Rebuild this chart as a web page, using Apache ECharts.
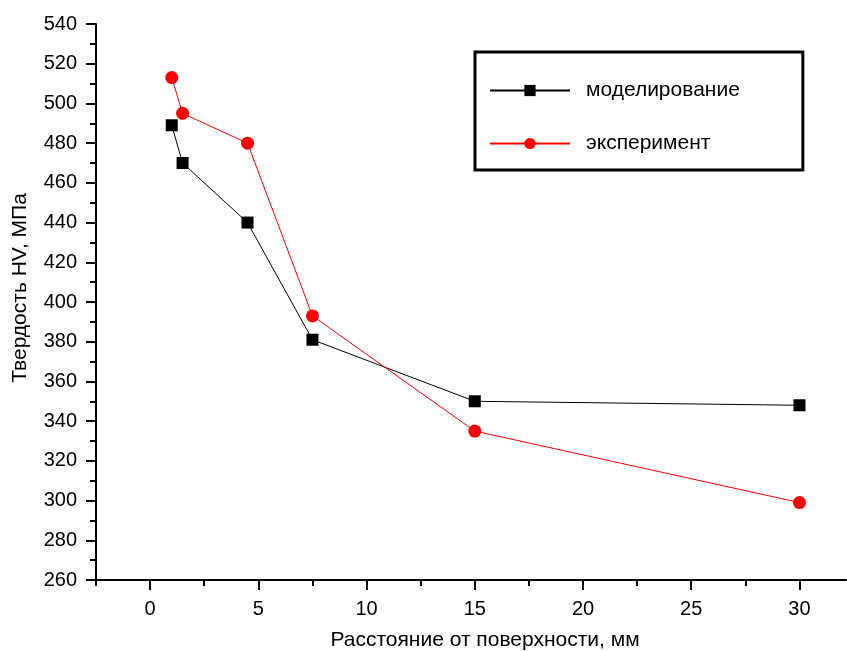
<!DOCTYPE html>
<html>
<head>
<meta charset="utf-8">
<script src="https://cdn.jsdelivr.net/npm/echarts@6/dist/echarts.min.js"></script>
<style>html,body{margin:0;padding:0;background:#fff}#c{width:847px;height:651px}</style>
</head>
<body>
<div id="c"></div>
<script>
const xValues = [1, 1.5, 4.5, 7.5, 15, 30];
const modelValues = [489, 470, 440, 381, 350, 348];
const expValues = [513, 495, 480, 393, 335, 299];
const seriesNames = ['моделирование', 'эксперимент'];
const xMajorTicks = [0, 5, 10, 15, 20, 25, 30];
const xMinorTicks = [-2.5, 2.5, 7.5, 12.5, 17.5, 22.5, 27.5];
const xTitle = 'Расстояние от поверхности, мм';
const yTitle = 'Твердость HV, МПа';

const font = 'Liberation Sans, Arial, sans-serif';
const chart = echarts.init(document.getElementById('c'), null, {renderer: 'canvas'});
const pair = (xs, ys) => xs.map((x, i) => [x, ys[i]]);

chart.setOption({
  animation: false,
  backgroundColor: '#fff',
  grid: {left: 96, right: 1, top: 24, bottom: 71, containLabel: false, outerBoundsMode: 'none'},
  legend: {
    left: 475, top: 52,
    orient: 'vertical',
    data: seriesNames,
    itemWidth: 80, itemHeight: 14, itemGap: 32,
    padding: [28, 63, 16, 14],
    borderColor: '#000', borderWidth: 3,
    backgroundColor: '#fff',
    textStyle: {fontFamily: font, fontSize: 21, lineHeight: 20, color: '#000', padding: [0, 0, 0, 11]}
  },
  xAxis: [{
    type: 'value', min: -2.5, max: 32.15,
    position: 'bottom',
    name: xTitle, nameLocation: 'middle', nameGap: 50,
    nameTextStyle: {fontFamily: font, fontSize: 21, color: '#000', padding: [0, 0, 0, 28]},
    axisLine: {show: true, onZero: false, lineStyle: {color: '#000', width: 2}},
    axisTick: {show: true, customValues: xMajorTicks, length: 10, lineStyle: {color: '#000', width: 2}},
    axisLabel: {customValues: xMajorTicks, margin: 19, fontFamily: font, fontSize: 20, color: '#000'},
    splitLine: {show: false}
  }, {
    type: 'value', min: -2.5, max: 32.15,
    position: 'bottom',
    axisLine: {show: false, onZero: false},
    axisTick: {show: true, customValues: xMinorTicks, length: 6, lineStyle: {color: '#000', width: 2}},
    axisLabel: {show: false},
    splitLine: {show: false}
  }],
  yAxis: {
    type: 'value', min: 260, max: 540, interval: 20,
    name: yTitle, nameLocation: 'middle', nameGap: 65,
    nameTextStyle: {fontFamily: font, fontSize: 21, color: '#000', padding: [0, 0, 0, 28]},
    axisLine: {show: true, onZero: false, lineStyle: {color: '#000', width: 2}},
    axisTick: {show: true, length: 10, lineStyle: {color: '#000', width: 2}},
    minorTick: {show: true, splitNumber: 2, length: 6, lineStyle: {color: '#000', width: 2}},
    axisLabel: {margin: 19, fontFamily: font, fontSize: 20, color: '#000'},
    splitLine: {show: false}
  },
  series: [{
    name: seriesNames[0], type: 'line', xAxisIndex: 0,
    data: pair(xValues, modelValues),
    symbol: 'rect', symbolSize: 12,
    itemStyle: {color: '#000'},
    lineStyle: {color: '#000', width: 1}
  }, {
    name: seriesNames[1], type: 'line', xAxisIndex: 0,
    data: pair(xValues, expValues),
    symbol: 'circle', symbolSize: 13,
    itemStyle: {color: '#ff0000'},
    lineStyle: {color: '#ff0000', width: 1}
  }]
});
</script>
</body>
</html>
